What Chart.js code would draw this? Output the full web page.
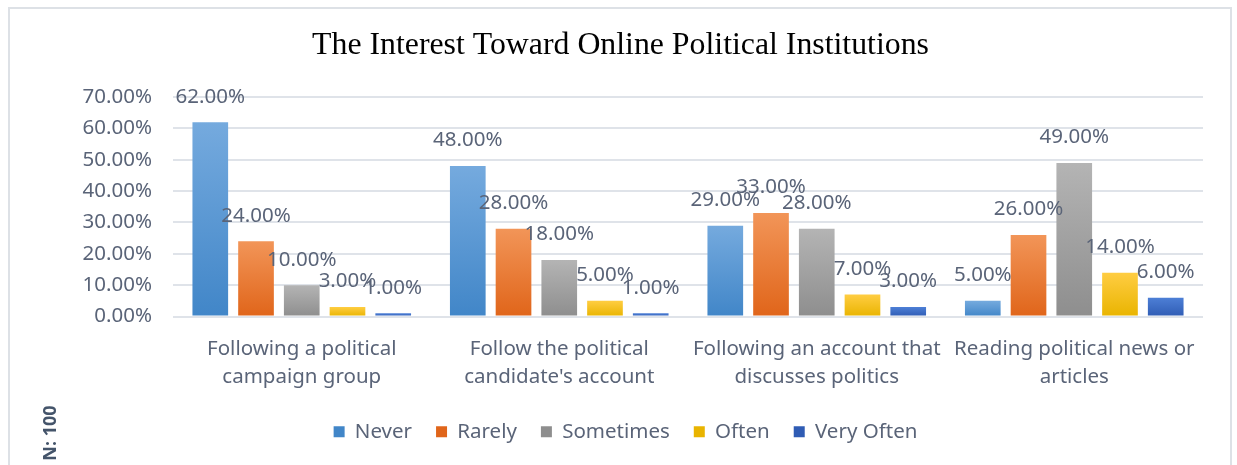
<!DOCTYPE html>
<html>
<head>
<meta charset="utf-8">
<title>The Interest Toward Online Political Institutions</title>
<script src="https://cdn.jsdelivr.net/npm/chart.js@4.4.1/dist/chart.umd.min.js"></script>
<style>
  html, body { margin:0; padding:0; background:#fff; overflow:hidden; }
  #wrap { position:relative; width:1237px; height:465px; }
  #frame { position:absolute; left:8px; top:7px; width:1224px; height:480px; border:2px solid #dde1e6; box-sizing:border-box; pointer-events:none; }
  #nlabel { position:absolute; left:49px; top:433px; transform:translate(-50%,-50%) rotate(-90deg);
    font:bold 18px "Noto Sans", sans-serif; color:#44546a; white-space:nowrap; }
</style>
</head>
<body>
<div id="wrap">
  <canvas id="chart" width="1237" height="465"></canvas>
  <div id="frame"></div>
  <div id="nlabel">N: 100</div>
</div>
<script>
// values (percent)
const categories = [
  ['Following a political', 'campaign group'],
  ['Follow the political', "candidate's account"],
  ['Following an account that', 'discusses politics'],
  ['Reading political news or', 'articles'],
];
const seriesNames = ['Never', 'Rarely', 'Sometimes', 'Often', 'Very Often'];
const never     = [62, 48, 29, 5];
const rarely    = [24, 28, 33, 26];
const sometimes = [10, 18, 28, 49];
const often     = [3, 5, 7, 14];
const veryOften = [1, 1, 3, 6];
const yTicks = [0, 10, 20, 30, 40, 50, 60, 70];

const TEXT = '#5a6478';
const FONT = '"Noto Sans", sans-serif';

// excel-ish vertical gradient per bar, solid colour for the legend swatch
function barFill(top, bottom, solid){
  return ctx => {
    if (ctx.type !== 'data') return solid;
    const c = ctx.chart, y = c.scales.y;
    if (!c.chartArea || !y) return solid;
    const y0 = y.getPixelForValue(0), y1 = y.getPixelForValue(ctx.raw);
    if (!isFinite(y1) || Math.abs(y0 - y1) < 1) return solid;
    const g = c.ctx.createLinearGradient(0, y1, 0, y0);
    g.addColorStop(0, top); g.addColorStop(1, bottom);
    return g;
  };
}

const palette = [
  ['#75aade', '#4186c8', '#5b9bd5'],
  ['#f29558', '#e0651a', '#ed7d31'],
  ['#b4b4b4', '#8e8e8e', '#a5a5a5'],
  ['#ffcd42', '#e9b400', '#ffc000'],
  ['#4d7fd6', '#2f5cb4', '#4472c4'],
];
const series = [never, rarely, sometimes, often, veryOften];

const valueLabels = {
  id: 'valueLabels',
  afterDatasetsDraw(chart){
    const { ctx } = chart;
    ctx.save();
    ctx.font = `20.5px ${FONT}`;
    ctx.fillStyle = TEXT;
    ctx.textAlign = 'center';
    ctx.textBaseline = 'middle';
    chart.data.datasets.forEach((ds, i) => {
      chart.getDatasetMeta(i).data.forEach((bar, j) => {
        ctx.fillText(ds.data[j].toFixed(2) + '%', bar.x, bar.y - 25.5);
      });
    });
    ctx.restore();
  }
};

// title and legend sit a bit right of the plot centre in the original
const nudge = {
  id: 'nudge',
  afterLayout(chart){
    const t = chart.titleBlock, l = chart.legend;
    if (t){ t.left += 19; t.right += 19; }
    if (l){ l.left += 24; l.right += 24; }
  }
};

new Chart(document.getElementById('chart'), {
  type: 'bar',
  data: {
    labels: categories,
    datasets: series.map((d, i) => ({
      label: seriesNames[i],
      data: d,
      backgroundColor: barFill(palette[i][0], palette[i][1], palette[i][2]),
      borderWidth: 0,
      categoryPercentage: 0.888,
      barPercentage: 0.78,
    })),
  },
  options: {
    responsive: false,
    animation: false,
    layout: { padding: { left: 0, right: 34, top: 0, bottom: 13 } },
    plugins: {
      title: {
        display: true,
        text: 'The Interest Toward Online Political Institutions',
        color: '#000',
        font: { family: '"Liberation Serif", "Times New Roman", serif', size: 31.8, weight: 'normal', lineHeight: 1.2 },
        padding: { top: 27, bottom: 32 },
      },
      legend: {
        position: 'bottom',
        labels: {
          boxWidth: 11, boxHeight: 11, padding: 24, color: TEXT,
          font: { family: FONT, size: 20.5 },
        },
      },
      tooltip: { enabled: false },
    },
    scales: {
      x: {
        grid: { display: false, drawTicks: false },
        border: { display: false },
        ticks: { color: TEXT, font: { family: FONT, size: 20.5, lineHeight: 1.4 }, padding: 18, maxRotation: 0, autoSkip: false },
        afterFit(scale){ scale.height = 81; },
      },
      y: {
        min: 0, max: 70,
        afterBuildTicks(scale){ scale.ticks = yTicks.map(v => ({ value: v })); },
        grid: { color: '#dfe3e9', lineWidth: 2, drawTicks: false },
        border: { display: false },
        ticks: { color: TEXT, font: { family: FONT, size: 20.5 }, padding: 21, callback: v => v.toFixed(2) + '%' },
        afterFit(scale){ scale.width = 173; },
      },
    },
  },
  plugins: [valueLabels, nudge],
});
</script>
</body>
</html>
